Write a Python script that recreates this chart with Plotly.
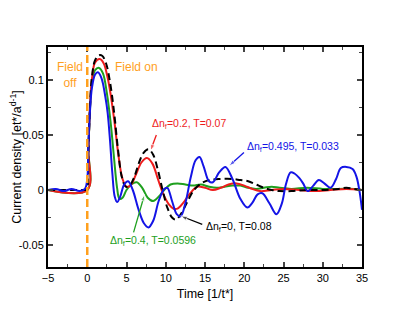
import plotly.graph_objects as go

# ---------------- data ----------------
t_black = [-5, -0.05, 0, 0.15, 0.35, 0.6, 1.0, 1.5, 1.9, 2.4, 2.9, 3.4, 3.9, 4.4, 4.9, 5.4,
           6.0, 6.6, 7.2, 7.8, 8.4, 9.0, 9.6, 10.2, 10.8, 11.3, 12.0, 12.8, 13.6, 14.5,
           15.5, 17.0, 18.5, 19.5, 20.5, 21.5, 22.5, 23.5, 24.5, 26, 28, 30, 32, 33, 34, 35]
j_black = [0, 0, 0, 0.035, 0.075, 0.103, 0.118, 0.1225, 0.122, 0.115, 0.098, 0.072, 0.038,
           0.012, 0.003, 0.004, 0.012, 0.025, 0.034, 0.037, 0.032, 0.018, 0.0, -0.016,
           -0.025, -0.027, -0.021, -0.01, 0.0, 0.006, 0.009, 0.010, 0.010, 0.009, 0.008,
           0.005, 0.002, 0.0, -0.001, -0.001, 0.0, 0.0, 0.001, 0.002, 0.001, 0.0]

t_red = [-5, 0, 0.15, 0.35, 0.6, 1.0, 1.6, 2.1, 2.6, 3.0, 3.5, 4.0, 4.5, 5.0, 5.5, 6.2,
         6.9, 7.6, 8.3, 9.0, 9.7, 10.4, 11.0, 11.5, 12.2, 13.0, 14.0, 15.0, 16.0, 17.0,
         18.0, 19.0, 20.0, 21.0, 22.0, 23.5, 25, 27, 29, 31, 33, 35]
j_red = [0, 0, 0.036, 0.076, 0.101, 0.116, 0.119, 0.115, 0.102, 0.086, 0.06, 0.03, 0.01,
         0.003, 0.004, 0.014, 0.025, 0.029, 0.024, 0.01, -0.004, -0.013, -0.017, -0.017,
         -0.012, -0.004, 0.003, 0.002, 0.0, 0.002, 0.005, 0.006, 0.004, 0.001, -0.001,
         0.0, 0.001, 0.0, -0.001, 0.0, 0.001, 0.0]

t_green = [-5, 0, 0.15, 0.35, 0.6, 1.0, 1.5, 2.0, 2.5, 3.0, 3.4, 3.8, 4.1, 4.5, 5.0, 5.6,
           6.3, 7.0, 7.7, 8.4, 9.1, 9.8, 10.6, 11.5, 12.5, 13.5, 14.5, 15.5, 16.5, 17.5,
           18.5, 19.5, 20.5, 21.5, 22.5, 23.5, 24.5, 26, 28, 30, 32, 34, 35]
j_green = [0, 0, 0.037, 0.074, 0.098, 0.109, 0.111, 0.106, 0.088, 0.06, 0.03, 0.002,
           -0.008, -0.007, 0.0, 0.005, 0.007, 0.002, -0.007, -0.01, -0.006, 0.0, 0.005,
           0.006, 0.005, 0.004, 0.005, 0.003, 0.002, 0.003, 0.004, 0.004, 0.002, 0.001,
           0.002, 0.003, 0.002, 0.001, 0.002, 0.001, 0.001, 0.001, 0.0]

t_blue = [-5, -4, -3, -2, -1, -0.3, 0, 0.15, 0.35, 0.6, 1.0, 1.35, 1.8, 2.3, 2.6, 2.9,
          3.2, 3.5, 3.8, 4.2, 4.7, 5.2, 5.8, 6.5, 7.2, 7.8, 8.4, 9.1, 9.8, 10.2, 10.8,
          11.4, 11.9, 12.5, 13.2, 13.8, 14.3, 14.8, 15.5, 16.0, 16.8, 17.6, 18.5, 19.5,
          20.4, 21.0, 21.7, 22.3, 23.2, 24.1, 24.8, 25.3, 25.9, 26.4, 27.0, 27.5, 28.1,
          28.8, 29.5, 30.2, 31.0, 31.7, 32.3, 33.0, 33.8, 34.3, 34.7, 35.0]
j_blue = [0, 0.001, -0.001, 0.001, -0.001, 0.001, 0.01, 0.04, 0.072, 0.093, 0.105, 0.107,
          0.102, 0.085, 0.07, 0.045, 0.015, -0.006, -0.011, -0.006, 0.005, 0.008, 0.0,
          -0.017, -0.03, -0.034, -0.028, -0.01, 0.001, 0.002, -0.01, -0.022, -0.024,
          -0.012, 0.012, 0.027, 0.03, 0.022, 0.008, 0.007, 0.016, 0.021, 0.01, -0.008,
          -0.016, -0.012, -0.004, -0.003, -0.012, -0.022, -0.012, 0.005, 0.016, 0.015,
          0.011, 0.006, -0.001, 0.004, 0.009, 0.006, 0.002, 0.01, 0.02, 0.021, 0.019,
          0.012, -0.002, -0.018]

x_ticks = [-5, 0, 5, 10, 15, 20, 25, 30, 35]
y_ticks = [-0.05, 0, 0.05, 0.1]
y_ticklabels = ["-0.05", "0", "0.05", "0.1"]

RED = "#ee1c1c"
GREEN = "#1ea01e"
BLUE = "#1414e6"
ORANGE = "#ffa01e"
FONT = "Liberation Sans, Arial, sans-serif"

fig = go.Figure()
fig.add_trace(go.Scatter(x=t_green, y=j_green, mode="lines", line=dict(color=GREEN, width=2, shape="spline")))
fig.add_trace(go.Scatter(x=t_red, y=j_red, mode="lines", line=dict(color=RED, width=2, shape="spline")))
fig.add_trace(go.Scatter(x=t_black, y=j_black, mode="lines", line=dict(color="black", width=2, dash="7px,4px", shape="spline")))
fig.add_trace(go.Scatter(x=t_blue, y=j_blue, mode="lines", line=dict(color=BLUE, width=2, shape="spline")))

fig.add_vline(x=0, line=dict(color=ORANGE, width=2.5, dash="8px,4px"))

def arrow(tx, ty, hx, hy, color):
    fig.add_trace(go.Scatter(x=[tx, hx], y=[ty, hy], mode="lines+markers",
                             line=dict(color=color, width=1.3),
                             marker=dict(symbol="arrow", size=[0, 7], angleref="previous", color=color),
                             hoverinfo="skip"))

def label(x, y, text, color, size=10.5, xanchor="center"):
    fig.add_annotation(x=x, y=y, xref="x", yref="y", text=text, showarrow=False,
                       font=dict(color=color, size=size, family=FONT), xanchor=xanchor)

label(12.9, 0.0600, "Δn<sub>f</sub>=0.2, T=0.07", RED)
arrow(8.8, 0.050, 8.05, 0.0355, RED)
label(26.2, 0.0390, "Δn<sub>f</sub>=0.495, T=0.033", BLUE)
arrow(19.96, 0.034, 18.05, 0.0218, BLUE)
label(19.3, -0.0335, "Δn<sub>f</sub>=0, T=0.08", "black")
arrow(14.65, -0.0313, 11.9, -0.0236, "black")
label(8.4, -0.0465, "Δn<sub>f</sub>=0.4, T=0.0596", GREEN)
arrow(5.9, -0.0385, 7.3, -0.004, GREEN)

label(-4.1, 0.1045, "Field<br>off", ORANGE, size=12, xanchor="left")
label(3.3, 0.1115, "Field on", ORANGE, size=12, xanchor="left")

fig.update_layout(
    width=399, height=306,
    margin=dict(l=40, r=45, t=39, b=47, autoexpand=False),
    paper_bgcolor="white", plot_bgcolor="white",
    showlegend=False,
    font=dict(family=FONT, color="black", size=11),
    xaxis=dict(range=[-5, 35], tickvals=x_ticks, ticks="inside", ticklen=5, tickwidth=1.5,
               mirror="ticks", showline=True, linewidth=2, linecolor="black",
               showgrid=False, zeroline=False, automargin=False,
               minor=dict(ticks="inside", ticklen=3, tickwidth=1.2, dtick=2.5, tick0=0, showgrid=False),
               title=dict(text="Time [1/t*]", font=dict(size=12.5), standoff=6)),
    yaxis=dict(range=[-0.07, 0.13], tickvals=y_ticks, ticktext=y_ticklabels, ticks="inside",
               ticklen=5, tickwidth=1.5, mirror="ticks", showline=True, linewidth=2,
               linecolor="black", showgrid=False, zeroline=False, automargin=False,
               minor=dict(ticks="inside", ticklen=3, tickwidth=1.2, dtick=0.025, tick0=0, showgrid=False),
               title=dict(text="Current density [et*/a<sup>d-1</sup>]", font=dict(size=12.5), standoff=4)),
)

fig.write_html("out.html")
